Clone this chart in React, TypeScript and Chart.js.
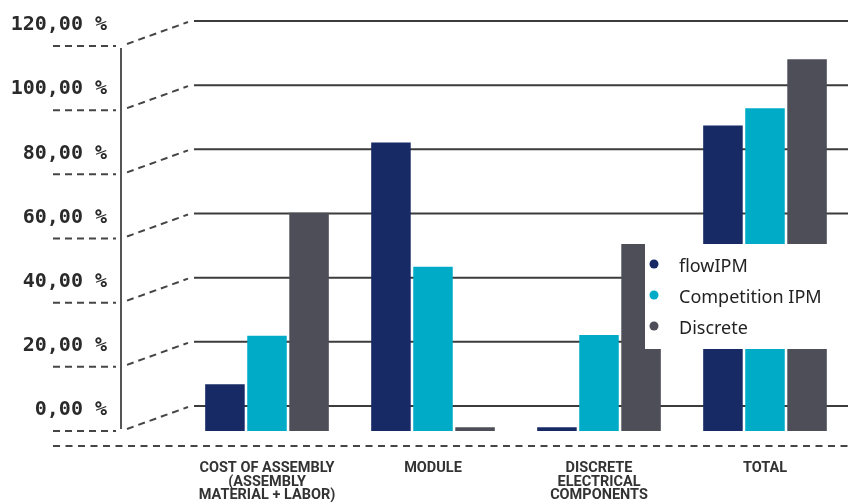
import React, { useEffect, useRef } from "react";
import { Chart, registerables } from "chart.js";

Chart.register(...registerables);

const CATEGORIES = [
  ["COST OF ASSEMBLY", "(ASSEMBLY", "MATERIAL + LABOR)"],
  ["MODULE"],
  ["DISCRETE", "ELECTRICAL", "COMPONENTS"],
  ["TOTAL"],
];
const FLOW_IPM = [14.6, 89.9, 1.2, 95.2];
const COMPETITION_IPM = [29.7, 51.2, 29.9, 100.6];
const DISCRETE = [68.0, 1.2, 58.3, 115.9];
const Y_TICKS = [0, 20, 40, 60, 80, 100, 120];
const SERIES_LABELS = ["flowIPM", "Competition IPM", "Discrete"];
const SERIES_COLORS = ["#172a66", "#00abc8", "#4e4e58"];

const GRID_SHIFT = 25;

const decorPlugin = {
  id: "decor",
  beforeDatasetsDraw(chart: any) {
    const { ctx, scales, width } = chart;
    const y = scales.y;
    ctx.save();
    ctx.lineWidth = 2;
    for (const v of Y_TICKS) {
      const yF = y.getPixelForValue(v);
      const yS = yF - GRID_SHIFT;
      ctx.strokeStyle = "#454545";
      ctx.setLineDash([7, 5]);
      ctx.beginPath();
      ctx.moveTo(53, yF);
      ctx.lineTo(116, yF);
      ctx.stroke();
      ctx.beginPath();
      ctx.moveTo(127, yF - 2);
      ctx.lineTo(188, yS + 1);
      ctx.stroke();
      ctx.setLineDash([]);
      ctx.strokeStyle = "#3c3c3c";
      ctx.beginPath();
      ctx.moveTo(194, yS);
      ctx.lineTo(width, yS);
      ctx.stroke();
    }
    const yTop = y.getPixelForValue(Y_TICKS[Y_TICKS.length - 1]);
    const yBot = y.getPixelForValue(Y_TICKS[0]);
    ctx.strokeStyle = "#555";
    ctx.beginPath();
    ctx.moveTo(121, yTop + 2);
    ctx.lineTo(121, yBot - 2);
    ctx.stroke();
    ctx.strokeStyle = "#454545";
    ctx.setLineDash([7, 5.5]);
    ctx.beginPath();
    ctx.moveTo(53, yBot + 15);
    ctx.lineTo(width, yBot + 15);
    ctx.stroke();
    ctx.restore();
  },
  afterDatasetsDraw(chart: any) {
    const { ctx, width } = chart;
    ctx.save();
    ctx.fillStyle = "#ffffff";
    ctx.fillRect(645, 244, width - 645, 105);
    ctx.font = "18px 'Noto Sans'";
    ctx.textBaseline = "middle";
    chart.data.datasets.forEach((ds: any, i: number) => {
      const cy = 267 + i * 31;
      ctx.fillStyle = ds.backgroundColor;
      ctx.beginPath();
      ctx.arc(654, cy - 3, 4.5, 0, Math.PI * 2);
      ctx.fill();
      ctx.fillStyle = "#222";
      ctx.fillText(ds.label, 679, cy);
    });
    ctx.restore();
  },
};

export default function App() {
  const ref = useRef<HTMLCanvasElement>(null);
  useEffect(() => {
    if (!ref.current) return;
    const seriesData = [FLOW_IPM, COMPETITION_IPM, DISCRETE];
    const chart = new Chart(ref.current, {
      type: "bar",
      data: {
        labels: CATEGORIES,
        datasets: seriesData.map((d, i) => ({
          label: SERIES_LABELS[i],
          data: d,
          backgroundColor: SERIES_COLORS[i],
          borderWidth: 0,
          categoryPercentage: 0.76,
          barPercentage: 0.94,
        })),
      },
      options: {
        animation: false,
        responsive: true,
        maintainAspectRatio: false,
        layout: { padding: { top: 46, left: 0, right: -6, bottom: 0 } },
        plugins: {
          legend: { display: false },
          tooltip: { enabled: false },
        },
        scales: {
          x: {
            grid: { display: false, drawTicks: false },
            border: { display: false },
            ticks: {
              padding: 31,
              color: "#333",
              font: { family: "Roboto", size: 14.5, weight: "bold", lineHeight: 0.92 },
              maxRotation: 0,
              autoSkip: false,
            },
            afterFit: (s: any) => {
              s.height = 73;
              s.paddingLeft = 0;
              s.paddingRight = 0;
            },
          },
          y: {
            min: 0,
            max: 120,
            grid: { display: false, drawTicks: false },
            border: { display: false },
            afterBuildTicks: (s: any) => {
              s.ticks = Y_TICKS.map((v) => ({ value: v }));
            },
            ticks: {
              padding: 77,
              labelOffset: -21,
              color: "#2a2a2a",
              font: { family: "'DejaVu Sans Mono'", size: 20, weight: "bold" },
              callback: (v: any) => Number(v).toFixed(2).replace(".", ",") + " %",
            },
            afterFit: (s: any) => {
              s.width = 184;
              s.paddingTop = 0;
              s.paddingBottom = 0;
            },
          },
        },
      },
      plugins: [decorPlugin],
    });
    return () => chart.destroy();
  }, []);
  return (
    <div style={{ position: "fixed", left: 0, top: 0, width: 848, height: 504, background: "#fff" }}>
      <canvas ref={ref} />
    </div>
  );
}
